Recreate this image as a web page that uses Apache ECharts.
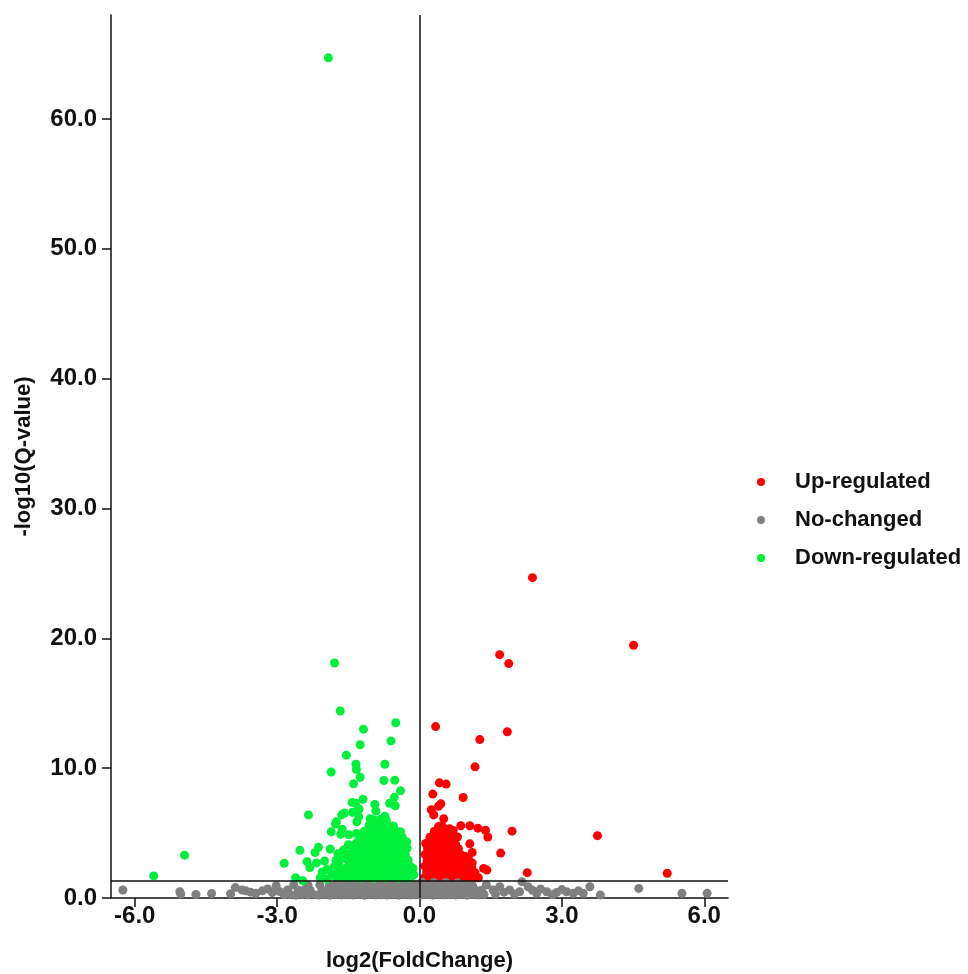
<!DOCTYPE html>
<html>
<head>
<meta charset="utf-8">
<script src="https://cdn.jsdelivr.net/npm/echarts@6/dist/echarts.min.js"></script>
<style>
html,body{margin:0;padding:0;background:#fff;}
#chart{width:968px;height:974px;}
</style>
</head>
<body>
<div id="chart"></div>
<script>
// ---- data ----
var seriesNames = ['Up-regulated', 'No-changed', 'Down-regulated'];
var xTicks = [-6, -3, 0, 3, 6];
var yTicks = [0, 10, 20, 30, 40, 50, 60];
var qThreshold = 1.3;   // -log10(0.05)
var fcZero = 0;

var upRegulated = [
  [2.38,24.67],[4.51,19.46],[1.69,18.74],[1.88,18.05],[0.34,13.2],[1.85,12.8],[1.27,12.2],[1.17,10.1],
  [0.42,8.87],[0.56,8.77],[0.28,8.0],[0.92,7.74],[0.45,7.25],[0.40,7.07],[0.25,6.8],[0.30,6.4],[0.51,6.1],
  [0.87,5.56],[1.06,5.56],[1.23,5.38],[1.39,5.22],[1.44,4.7],[1.95,5.15],[0.63,5.33],[0.71,5.2],[0.80,4.7],
  [0.69,4.7],[1.06,4.17],[1.11,3.5],[1.71,3.46],[0.96,3.2],[1.11,2.7],[1.35,2.28],[1.42,2.15],[2.27,1.95],
  [0.92,2.4],[3.75,4.8],[5.22,1.9],
  [0.10,1.55],[0.22,1.6],[0.35,1.52],[0.48,1.58],[0.61,1.5],[0.74,1.57],[0.87,1.53],[1.00,1.6],[1.13,1.52],[1.24,1.56],
  [0.15,2.0],[0.28,2.05],[0.41,1.98],[0.54,2.02],[0.67,1.96],[0.80,2.04],[0.93,1.99],[1.06,2.03],[1.17,1.95],
  [0.11,2.45],[0.23,2.5],[0.36,2.43],[0.49,2.47],[0.62,2.42],[0.75,2.5],[0.88,2.44],[1.01,2.48],[1.10,2.4],
  [0.16,2.9],[0.29,2.93],[0.42,2.88],[0.55,2.92],[0.68,2.87],[0.81,2.94],[0.94,2.86],[1.04,2.9],
  [0.12,3.35],[0.24,3.38],[0.37,3.32],[0.50,3.37],[0.63,3.33],[0.76,3.36],[0.89,3.3],
  [0.17,3.8],[0.30,3.83],[0.43,3.78],[0.56,3.82],[0.69,3.77],[0.82,3.8],
  [0.13,4.2],[0.25,4.27],[0.38,4.23],[0.51,4.28],[0.64,4.22],[0.76,4.15],
  [0.22,4.68],[0.34,4.72],[0.47,4.69],[0.59,4.73],
  [0.31,5.13],[0.43,5.17],[0.53,5.12],
  [0.40,5.5],[0.48,5.52]
];

var noChanged = [
  [-6.25,0.62],[-5.05,0.49],[-5.03,0.3],[-4.71,0.27],[-4.38,0.35],[-3.98,0.33],[-3.88,0.8],[-3.74,0.62],
  [-3.66,0.55],[-3.56,0.45],[-3.45,0.36],[-3.31,0.55],[-3.20,0.7],[-3.10,0.42],[-2.95,0.5],[-3.02,0.95],
  [1.41,1.0],[1.55,0.62],[1.69,0.87],[1.90,0.62],[2.11,0.48],[2.16,1.25],[2.29,0.87],[2.47,0.36],[2.68,0.48],
  [2.89,0.43],[3.10,0.48],[3.24,0.36],[3.45,0.36],[3.59,0.87],[3.81,0.23],[4.62,0.74],[5.53,0.36],[6.06,0.36],
  [1.60,0.3],[1.78,0.45],[2.00,0.3],[2.38,0.6],[2.55,0.7],[2.80,0.25],[3.00,0.65],[3.35,0.55],
  [-2.85,0.25],[-2.72,0.27],[-2.60,0.22],[-2.48,0.26],[-2.36,0.24],[-2.24,0.28],[-2.12,0.23],[-2.00,0.26],
  [-1.88,0.22],[-1.76,0.27],[-1.64,0.24],[-1.52,0.25],[-1.40,0.23],[-1.28,0.27],[-1.16,0.22],[-1.04,0.26],
  [-0.92,0.24],[-0.80,0.25],[-0.68,0.23],[-0.56,0.27],[-0.44,0.22],[-0.32,0.26],[-0.20,0.24],[-0.08,0.25],
  [0.04,0.23],[0.16,0.27],[0.28,0.22],[0.40,0.26],[0.52,0.24],[0.64,0.25],[0.76,0.23],[0.88,0.27],
  [1.00,0.22],[1.12,0.26],[1.24,0.24],[1.36,0.28],
  [-2.78,0.62],[-2.55,0.6],[-2.42,0.65],[-2.30,0.58],[-2.06,0.63],[-1.94,0.6],[-1.82,0.64],[-1.70,0.59],
  [-1.58,0.62],[-1.46,0.6],[-1.34,0.65],[-1.22,0.61],[-1.10,0.63],[-0.98,0.58],[-0.86,0.62],[-0.74,0.64],
  [-0.62,0.6],[-0.50,0.63],[-0.38,0.59],[-0.26,0.62],[-0.14,0.64],[-0.02,0.6],[0.10,0.63],[0.22,0.61],
  [0.34,0.62],[0.46,0.59],[0.58,0.64],[0.70,0.6],[0.82,0.63],[0.94,0.61],[1.06,0.62],[1.18,0.58],[1.30,0.6],
  [-2.65,1.0],[-2.35,0.98],[-2.10,1.02],[-1.90,0.97],[-1.76,1.0],[-1.64,1.03],[-1.52,0.98],[-1.40,1.01],
  [-1.28,0.99],[-1.16,1.02],[-1.04,0.97],[-0.92,1.0],[-0.80,1.03],[-0.68,0.98],[-0.56,1.01],[-0.44,0.99],
  [-0.32,1.02],[-0.20,0.98],[-0.08,1.0],[0.04,1.03],[0.16,0.99],[0.28,1.01],[0.40,0.98],[0.52,1.02],
  [0.64,1.0],[0.76,0.97],[0.88,1.01],[1.00,0.98],[1.12,0.95],
  [-1.70,1.2],[-1.45,1.18],[-1.20,1.22],[-0.95,1.19],[-0.70,1.21],[-0.45,1.2],[-0.20,1.18],[0.05,1.21],
  [0.30,1.19],[0.55,1.2],[0.80,1.17]
];

var downRegulated = [
  [-1.92,64.7],[-1.79,18.1],[-1.67,14.4],[-0.50,13.5],[-1.18,13.0],[-0.60,12.1],[-1.25,11.8],[-1.54,11.0],
  [-1.34,10.3],[-0.73,10.3],[-1.33,9.9],[-1.86,9.7],[-1.25,9.3],[-0.75,9.05],[-0.52,9.07],[-1.39,8.8],
  [-0.40,8.25],[-1.19,7.6],[-0.53,7.75],[-1.42,7.36],[-1.35,7.3],[-0.94,7.2],[-0.63,7.3],[-0.51,7.1],
  [-1.27,6.85],[-0.92,6.7],[-1.58,6.55],[-1.64,6.4],[-2.34,6.4],[-1.41,6.6],[-1.28,6.25],[-0.73,6.3],
  [-1.75,5.87],[-1.77,5.7],[-1.32,5.87],[-1.04,6.1],[-1.01,5.87],[-1.63,5.3],[-1.86,5.1],[-1.66,4.9],
  [-1.49,4.87],[-1.33,4.97],[-0.27,4.33],[-1.50,4.1],[-2.52,3.67],[-2.13,3.9],[-2.20,3.5],[-1.88,3.77],
  [-2.37,2.8],[-2.31,2.35],[-2.17,2.7],[-2.85,2.67],[-1.76,2.9],[-1.80,2.4],[-1.72,2.0],[-1.56,3.43],
  [-1.54,2.97],[-2.61,1.56],[-2.09,1.56],[-2.46,1.33],[-1.63,1.58],[-5.60,1.7],[-4.95,3.3],
  [-1.62,1.9],[-1.70,2.55],[-1.58,2.25],[-1.66,3.1],[-1.85,1.9],[-1.95,2.2],[-1.78,1.65],[-1.60,3.7],
  [-1.95,1.45],[-2.05,2.0],[-1.72,3.4],[-2.00,2.85],[-0.12,1.8],[-0.14,2.3],
  [-1.50,1.55],[-1.37,1.6],[-1.24,1.52],[-1.10,1.57],[-0.97,1.5],[-0.84,1.58],[-0.71,1.53],[-0.58,1.6],[-0.45,1.51],[-0.32,1.56],[-0.20,1.54],
  [-1.44,2.0],[-1.30,2.04],[-1.17,1.97],[-1.04,2.02],[-0.90,1.98],[-0.77,2.05],[-0.64,1.96],[-0.51,2.03],[-0.38,1.99],[-0.25,2.02],[-0.16,1.97],
  [-1.49,2.45],[-1.36,2.48],[-1.22,2.42],[-1.09,2.47],[-0.96,2.43],[-0.83,2.5],[-0.70,2.44],[-0.57,2.47],[-0.44,2.41],[-0.31,2.46],[-0.19,2.42],
  [-1.43,2.9],[-1.29,2.93],[-1.16,2.87],[-1.03,2.92],[-0.89,2.88],[-0.76,2.94],[-0.63,2.89],[-0.50,2.91],[-0.37,2.86],[-0.24,2.92],
  [-1.47,3.35],[-1.34,3.38],[-1.21,3.32],[-1.08,3.37],[-0.95,3.33],[-0.82,3.39],[-0.69,3.34],[-0.56,3.36],[-0.43,3.31],[-0.30,3.36],
  [-1.40,3.8],[-1.27,3.83],[-1.14,3.77],[-1.01,3.82],[-0.88,3.78],[-0.75,3.84],[-0.62,3.79],[-0.49,3.81],[-0.36,3.76],[-0.26,3.85],
  [-1.33,4.25],[-1.20,4.28],[-1.07,4.22],[-0.94,4.27],[-0.81,4.23],[-0.68,4.29],[-0.55,4.24],[-0.42,4.26],[-0.31,4.2],
  [-1.24,4.7],[-1.12,4.73],[-0.99,4.67],[-0.86,4.72],[-0.73,4.68],[-0.60,4.74],[-0.47,4.69],[-0.36,4.66],
  [-1.16,5.15],[-1.03,5.18],[-0.90,5.12],[-0.77,5.17],[-0.64,5.13],[-0.51,5.19],[-0.40,5.1],
  [-1.06,5.6],[-0.93,5.63],[-0.80,5.57],[-0.67,5.62],[-0.55,5.55],
  [-0.96,6.0],[-0.83,6.05],[-0.70,5.98]
];

// ---- chart ----
var seriesColors = ['#ff0000', '#808080', '#00f03c'];
var FONT = '"Liberation Sans", Arial, sans-serif';
var chart = echarts.init(document.getElementById('chart'), null, {renderer: 'canvas'});

function fmt(v) { return v.toFixed(1); }

var option = {
  backgroundColor: '#ffffff',
  animation: false,
  grid: {left: 111, right: 240, top: 15, bottom: 76, containLabel: false, outerBoundsMode: 'none'},
  legend: {
    orient: 'vertical',
    left: 752,
    top: 466,
    icon: 'circle',
    itemWidth: 58,
    itemHeight: 8,
    itemGap: 16,
    data: seriesNames,
    textStyle: {fontFamily: FONT, fontWeight: 'bold', fontSize: 22, color: '#111', lineHeight: 22}
  },
  xAxis: {
    type: 'value',
    min: -6.5,
    max: 6.5,
    name: 'log2(FoldChange)',
    nameLocation: 'middle',
    nameGap: 52,
    nameTextStyle: {fontFamily: FONT, fontWeight: 'bold', fontSize: 22, color: '#111'},
    axisLine: {onZero: false, lineStyle: {color: '#111', width: 1.5}},
    axisTick: {show: true, length: 9, customValues: xTicks, lineStyle: {color: '#111', width: 1.5}},
    axisLabel: {customValues: xTicks, formatter: fmt, margin: 6, fontFamily: FONT, fontWeight: 'bold', fontSize: 24, color: '#111'},
    splitLine: {show: false}
  },
  yAxis: {
    type: 'value',
    min: 0,
    max: 68,
    name: '-log10(Q-value)',
    nameLocation: 'middle',
    nameGap: 76,
    nameTextStyle: {fontFamily: FONT, fontWeight: 'bold', fontSize: 22, color: '#111'},
    axisLine: {show: true, onZero: false, lineStyle: {color: '#111', width: 1.5}},
    axisTick: {show: true, length: 9, customValues: yTicks, lineStyle: {color: '#111', width: 1.5}},
    axisLabel: {customValues: yTicks, formatter: fmt, margin: 14, fontFamily: FONT, fontWeight: 'bold', fontSize: 24, color: '#111'},
    splitLine: {show: false}
  },
  series: [
    {name: seriesNames[0], type: 'scatter', data: upRegulated, symbolSize: 9, itemStyle: {color: seriesColors[0], opacity: 1}},
    {name: seriesNames[1], type: 'scatter', data: noChanged, symbolSize: 9, itemStyle: {color: seriesColors[1], opacity: 1}},
    {name: seriesNames[2], type: 'scatter', data: downRegulated, symbolSize: 9, itemStyle: {color: seriesColors[2], opacity: 1}},
    {
      name: 'refLines', type: 'scatter', data: [], z: 10, silent: true,
      markLine: {
        silent: true, symbol: ['none', 'none'], animation: false,
        label: {show: false},
        lineStyle: {color: '#111', width: 1.5, type: 'solid'},
        emphasis: {disabled: true},
        data: [{xAxis: fcZero}, {yAxis: qThreshold}]
      }
    }
  ]
};
chart.setOption(option);
</script>
</body>
</html>
